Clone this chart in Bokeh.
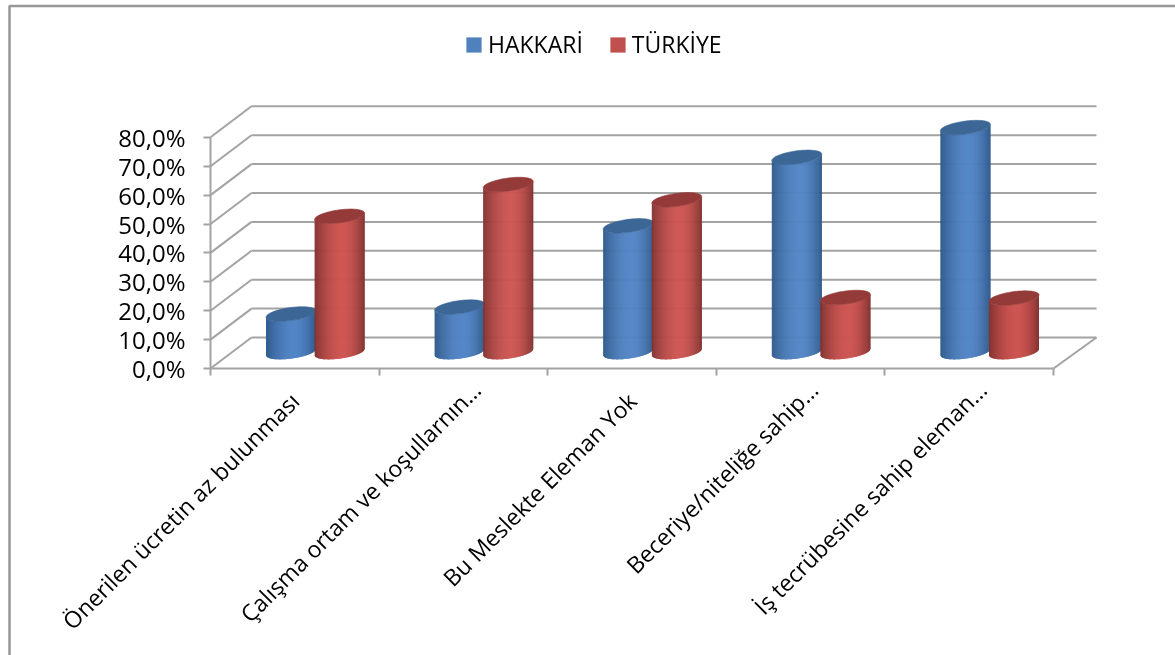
import math
from bokeh.plotting import figure
from bokeh.models import (LinearAxis, FixedTicker, Range1d, Legend, LegendItem, ColumnDataSource)
from bokeh.embed import file_html
from bokeh.resources import INLINE

categories = ["Önerilen ücretin az bulunması", "Çalışma ortam ve koşullarnın…", "Bu Meslekte Eleman Yok",
              "Beceriye/niteliğe sahip…", "İş tecrübesine sahip eleman…"]
hakkari = [13.5, 15.9, 44.0, 67.7, 78.0]
turkiye = [47.3, 58.3, 53.0, 19.2, 19.0]
y_ticks = [0, 10, 20, 30, 40, 50, 60, 70, 80]
y_labels = ["0,0%", "10,0%", "20,0%", "30,0%", "40,0%", "50,0%", "60,0%", "70,0%", "80,0%"]

W, H = 1175, 655
X0, CATW = 210.0, 168.6       # pixel of category 0 on the front edge, pixels per category
Y0, PPV = 368.0, 2.89         # pixel of 0 %, pixels per percent
DXP, DYP = 41.0, 31.0         # depth of the 3D box in pixels
DX, DY = DXP / CATW, DYP / PPV
XEND = 5 + (DXP + 2) / CATW
FONT = "Open Sans"

p = figure(width=W, height=H, output_backend="svg", toolbar_location=None,
           x_range=Range1d(-X0 / CATW, (W - X0) / CATW),
           y_range=Range1d(-(H - Y0) / PPV, Y0 / PPV),
           min_border=0, min_border_left=0, min_border_right=0, min_border_top=0, min_border_bottom=0,
           outline_line_color=None, x_axis_type=None, y_axis_type=None)
p.grid.visible = False
p.styles = {"position": "fixed", "left": "0px", "top": "0px"}

GRID = "#a3a3a3"
# walls
for v in y_ticks:
    p.line([DX, XEND], [v + DY, v + DY], line_color=GRID, line_width=2)
    p.line([0, DX], [v, v + DY], line_color=GRID, line_width=2)
p.line([5, XEND], [0, DY], line_color=GRID, line_width=2)

# frame of the chart
fx = (9 - X0) / CATW
fy = (Y0 - 5.5) / PPV
p.line([fx, fx, (W - X0) / CATW], [-(H - Y0) / PPV, fy, fy], line_color="#979797", line_width=2.5)


def hex_mix(a, b, f):
    ca = [int(a[i:i + 2], 16) for i in (1, 3, 5)]
    cb = [int(b[i:i + 2], 16) for i in (1, 3, 5)]
    return "#%02x%02x%02x" % tuple(round(x + (y - x) * f) for x, y in zip(ca, cb))


R = 25.0 / CATW
B = 6.5 / PPV
S = 3.2 / PPV
N = 100
NUDGE = -0.7 / CATW


def cylinder(cx, v, edge, mid, cap):
    base = DY / 2 + 0.3
    top = v + DY / 2
    xs, ys, cols = [], [], []
    f0 = lambda t: S * t - B * math.sqrt(max(0, 1 - t * t))
    for i in range(N):
        t0 = -1 + 2 * i / N
        t1 = -1 + 2 * (i + 1) / N
        t2 = min(1, t1 + 2.0 / N)   # overlap the next strip so that no seams show
        xs.append([cx + R * t0, cx + R * t2, cx + R * t2, cx + R * t0])
        ys.append([base + f0(t0), base + f0(t2), top + f0(t2), top + f0(t0)])
        tc = (t0 + t1) / 2
        d = abs(tc - 0.12) / (1 + (0.12 if tc < 0.12 else -0.12))
        cols.append(hex_mix(mid, edge, min(1, d ** 1.8)))
    p.patches(xs, ys, fill_color=cols, line_color=None)
    ex, ey = [], []
    for i in range(61):
        a = 2 * math.pi * i / 60
        ex.append(cx + R * math.cos(a))
        ey.append(top + S * math.cos(a) + B * math.sin(a))
    p.patch(ex, ey, fill_color=cap, line_color=cap, line_width=0.6)


for i in range(len(categories)):
    c = i + 0.5 + DX / 2
    cylinder(c - R + 2 * NUDGE * -0.5, hakkari[i], "#2f5a8a", "#5385c6", "#3b6695")
for i in range(len(categories)):
    c = i + 0.5 + DX / 2
    cylinder(c + R + NUDGE, turkiye[i], "#823230", "#cd5552", "#943a38")

# axes
ya = LinearAxis(fixed_location=0, ticker=FixedTicker(ticks=y_ticks), bounds=(0, 80),
                major_label_overrides={t: l for t, l in zip(y_ticks, y_labels)},
                axis_line_color=GRID, axis_line_width=2, major_tick_line_color=GRID, major_tick_line_width=2,
                major_tick_in=0, major_tick_out=7, minor_tick_line_color=None,
                major_label_text_font=FONT, major_label_text_font_size="24px", major_label_text_color="#000000",
                major_label_standoff=18)
p.add_layout(ya, "left")

xa = LinearAxis(fixed_location=0, ticker=FixedTicker(ticks=[0, 1, 2, 3, 4, 5]), bounds=(0, 5),
                major_label_text_font_size="0px", major_label_text_color=None,
                axis_line_color=GRID, axis_line_width=2, major_tick_line_color=GRID, major_tick_line_width=2,
                major_tick_in=0, major_tick_out=7, minor_tick_line_color=None)
p.add_layout(xa, "below")

# labels that end in the ellipsis sit a little further along their slant
plain = [i for i, c in enumerate(categories) if not c.endswith("…")]
cut = [i for i, c in enumerate(categories) if c.endswith("…")]
SHIFT = 13 / CATW
xl = LinearAxis(fixed_location=0, ticker=FixedTicker(ticks=[i + 0.5 for i in plain]),
                major_label_overrides={i + 0.5: categories[i] for i in plain},
                major_label_orientation=math.pi / 4,
                axis_line_color=None, major_tick_line_color=None, minor_tick_line_color=None,
                major_label_text_font=FONT, major_label_text_font_size="23px", major_label_text_color="#000000",
                major_label_standoff=22)
p.add_layout(xl, "below")
xc = LinearAxis(fixed_location=0, ticker=FixedTicker(ticks=[i + 0.5 + SHIFT for i in cut]),
                major_label_overrides={i + 0.5 + SHIFT: categories[i] for i in cut},
                major_label_orientation=math.pi / 4,
                axis_line_color=None, major_tick_line_color=None, minor_tick_line_color=None,
                major_label_text_font=FONT, major_label_text_font_size="23px", major_label_text_color="#000000",
                major_label_standoff=11)
p.add_layout(xc, "below")

# legend
nan = float("nan")
src = ColumnDataSource(dict(l=[nan], r=[nan], t=[nan], b=[nan]))
r1 = p.quad(left="l", right="r", top="t", bottom="b", source=src, fill_color="#4f81bd", line_color=None)
r2 = p.quad(left="l", right="r", top="t", bottom="b", source=src, fill_color="#c0504d", line_color=None)
lg = Legend(items=[LegendItem(label="HAKKARİ", renderers=[r1]), LegendItem(label="TÜRKİYE", renderers=[r2])],
            orientation="horizontal", location=(464, 595), border_line_color=None, background_fill_color=None,
            glyph_width=19, glyph_height=19, label_text_font=FONT, label_text_font_size="23px",
            label_text_color="#000000", spacing=25, padding=8, margin=0, label_standoff=5)
p.add_layout(lg, "center")

open("out.html", "w").write(file_html(p, INLINE))
